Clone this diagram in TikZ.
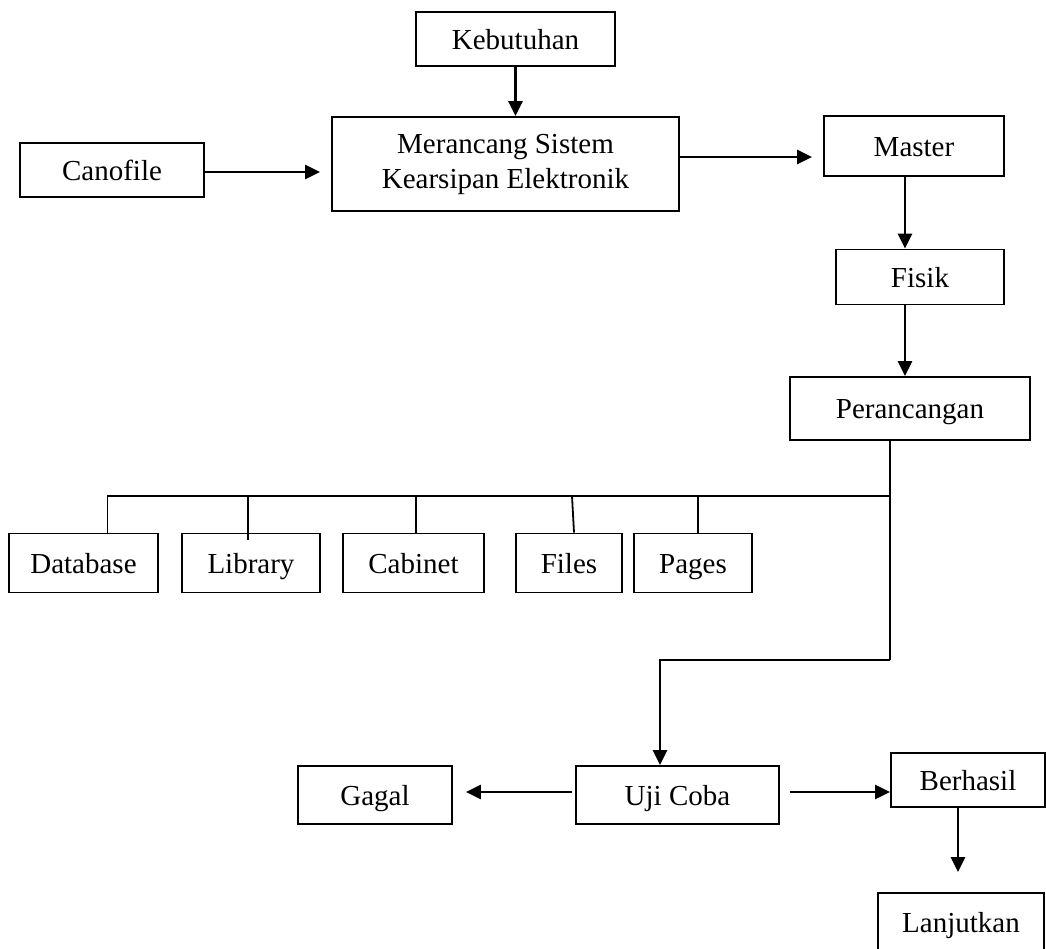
\documentclass[tikz,border=0pt]{standalone}
\usepackage{fontspec}
\setmainfont{Liberation Serif}
\usetikzlibrary{arrows.meta}
\tikzset{
    every node/.style={rectangle, draw, line width=1.8pt, inner sep=0pt,
    	align=center, text height=24pt, text depth=4pt,
    	font=\fontsize{29}{35}\selectfont}
}
\tikzset{
    arr/.style={line width=2.8pt, -{Triangle[length=15pt,width=14pt]}}
}
\tikzset{
    link/.style={line width=1.8pt}
}

\begin{document}
\begin{tikzpicture}[x=1pt, y=-1pt]
	\clip (0,0) rectangle (1046,948);

	\node (keb) [minimum width=199pt, minimum height=54pt] at (515.5, 39) {Kebutuhan};
	\node (mer) [minimum width=347pt, minimum height=94pt, text height=55pt, text depth=7pt] at (505.5, 164) {Merancang Sistem\\Kearsipan Elektronik};
	\node (cano) [minimum width=184pt, minimum height=54pt] at (112, 170) {Canofile};
	\node (mas) [minimum width=180pt, minimum height=60pt] at (914, 146) {Master};
	\node (fis) [minimum width=168pt, minimum height=55pt] at (920, 277) {Fisik};
	\node (per) [minimum width=240pt, minimum height=63pt] at (910, 408.5) {Perancangan};

	\node (db) [minimum width=149pt, minimum height=59pt] at (83.5, 563) {Database};
	\node (lib) [minimum width=138pt, minimum height=59pt] at (251, 563) {Library};
	\node (cab) [minimum width=141pt, minimum height=59pt] at (413.5, 563) {Cabinet};
	\node (fil) [minimum width=106pt, minimum height=59pt] at (569, 563) {Files};
	\node (pag) [minimum width=118pt, minimum height=59pt] at (693, 563) {Pages};

	\node (uji) [minimum width=203pt, minimum height=58pt] at (677.5, 795) {Uji Coba};
	\node (gag) [minimum width=154pt, minimum height=58pt] at (375, 795) {Gagal};
	\node (ber) [minimum width=154pt, minimum height=54pt] at (968, 780) {Berhasil};
	\node (lan) [minimum width=166pt, minimum height=58pt] at (961, 922) {Lanjutkan};

	\coordinate (bus) at (890, 496);
	\coordinate (turn) at (890, 660);

	\draw[arr] (keb.south) -- (keb.south |- mer.north);
	\draw[arr, shorten >=11pt] ([yshift=-2pt]cano.east) -- ([yshift=-2pt]cano.east -| mer.west);
	\draw[arr, shorten >=11pt] ([yshift=7pt]mer.east) -- ([yshift=7pt]mer.east -| mas.west);
	\draw[arr] ([xshift=-9pt]mas.south) -- ([xshift=-9pt]mas.south |- fis.north);
	\draw[arr] ([xshift=-15pt]fis.south) -- ([xshift=-15pt]fis.south |- per.north);

	% tree to the parts
	\draw[link] ([xshift=-20pt]per.south) -- (bus) -| ([xshift=24pt]db.north);
	\draw[link] ([xshift=-3pt]lib.north |- bus) -- ([xshift=-3pt,yshift=-7pt]lib.north);
	\draw[link] ([xshift=2.5pt]cab.north |- bus) -- ([xshift=2.5pt]cab.north);
	\draw[link] ([xshift=3pt]fil.north |- bus) -- ([xshift=5pt]fil.north);
	\draw[link] ([xshift=5pt]pag.north |- bus) -- ([xshift=5pt]pag.north);

	\draw[link] (bus) -- (turn);
	\draw[arr] (turn) -| ([xshift=-17.5pt]uji.north);

	\draw[arr] ([xshift=-3pt,yshift=3pt]uji.west) -- ([xshift=13pt,yshift=3pt]gag.east);
	\draw[arr] ([xshift=10pt,yshift=3pt]uji.east) -- ([yshift=-12pt]ber.west);
	\draw[arr] ([xshift=-10pt]ber.south) -- ([xshift=-3pt,yshift=20pt]lan.north);
\end{tikzpicture}
\end{document}
